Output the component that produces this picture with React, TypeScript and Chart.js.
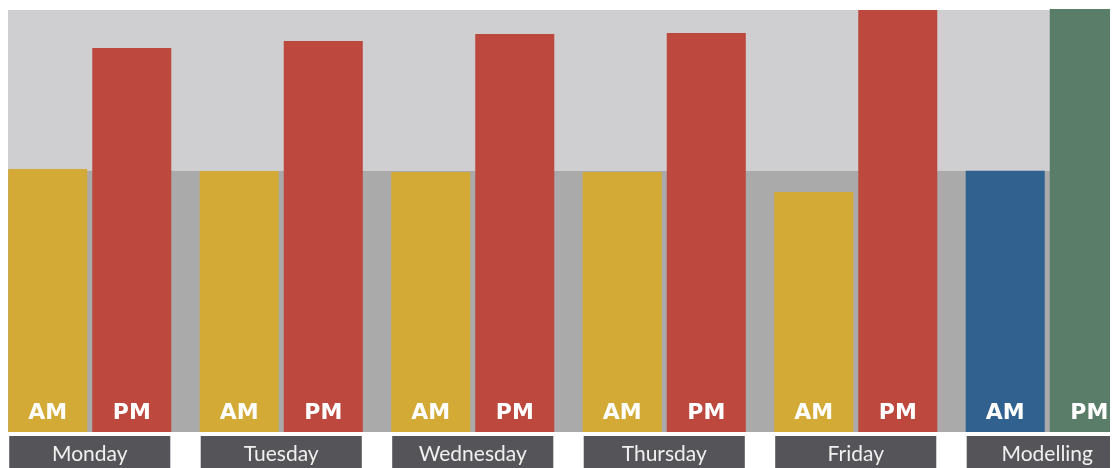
import React, { useEffect, useRef } from "react";
import { Chart, registerables } from "chart.js";

Chart.register(...registerables);

// ---- data ----
const categories = ["Monday", "Tuesday", "Wednesday", "Thursday", "Friday", "Modelling"];
const amValues = [62.3, 61.85, 61.6, 61.6, 56.9, 61.9];
const pmValues = [91.0, 92.65, 94.3, 94.55, 100, 100.25];
const seriesLabels = ["AM", "PM"];
const bandThreshold = 61.85;
const yMax = 100;

// ---- styles ----
const amColors = ["#D4AA36", "#D4AA36", "#D4AA36", "#D4AA36", "#D4AA36", "#30618F"];
const pmColors = ["#BD493E", "#BD493E", "#BD493E", "#BD493E", "#BD493E", "#5A7D69"];
const upperBand = "#CFCFD1";
const lowerBand = "#AAAAAB";
const boxColor = "#555559";

const bandsPlugin = {
  id: "bands",
  beforeDatasetsDraw(chart: any) {
    const { ctx, chartArea: a, scales } = chart;
    const t = scales.y.getPixelForValue(bandThreshold);
    ctx.save();
    ctx.fillStyle = upperBand;
    ctx.fillRect(a.left, a.top, a.right - a.left, t - a.top);
    ctx.fillStyle = lowerBand;
    ctx.fillRect(a.left, t, a.right - a.left, a.bottom - t);
    ctx.restore();
  },
};

const labelsPlugin = {
  id: "barLabels",
  afterDatasetsDraw(chart: any) {
    const { ctx, chartArea: a } = chart;
    ctx.save();
    ctx.fillStyle = "#FFFFFF";
    ctx.font = "bold 22px 'DejaVu Sans'";
    ctx.textAlign = "center";
    ctx.textBaseline = "alphabetic";
    chart.data.datasets.forEach((ds: any, di: number) => {
      const meta = chart.getDatasetMeta(di);
      meta.data.forEach((bar: any) => {
        ctx.fillText(ds.label, bar.x, a.bottom - 13);
      });
    });
    // category boxes
    const m0 = chart.getDatasetMeta(0);
    const m1 = chart.getDatasetMeta(1);
    chart.data.labels.forEach((lab: string, i: number) => {
      const b0 = m0.data[i];
      const b1 = m1.data[i];
      const left = b0.x - b0.width / 2 + 1;
      const right = b1.x + b1.width / 2 - 1;
      const top = a.bottom + 4;
      ctx.fillStyle = boxColor;
      ctx.fillRect(left, top, right - left, chart.height - top);
      ctx.fillStyle = "#F0F0F0";
      ctx.font = "21px Lato";
      ctx.fillText(lab, (left + right) / 2, top + 25);
    });
    ctx.restore();
  },
};

export default function App() {
  const ref = useRef<HTMLCanvasElement>(null);
  useEffect(() => {
    if (!ref.current) return;
    document.documentElement.style.overflow = "hidden";
    document.body.style.overflow = "hidden";
    const chart = new Chart(ref.current, {
      type: "bar",
      data: {
        labels: categories,
        datasets: [
          {
            label: seriesLabels[0],
            data: amValues,
            backgroundColor: amColors,
            borderWidth: 0,
          },
          {
            label: seriesLabels[1],
            data: pmValues,
            backgroundColor: pmColors,
            borderWidth: 0,
            clip: false as any,
          },
        ],
      },
      options: {
        responsive: false,
        animation: false,
        devicePixelRatio: 1,
        layout: { padding: { top: 2, bottom: 38, left: 0, right: 0 } },
        datasets: {
          bar: { categoryPercentage: 0.8777, barPercentage: 0.9405 },
        },
        plugins: { legend: { display: false }, tooltip: { enabled: false } },
        scales: {
          x: { display: false },
          y: { display: false, min: 0, max: yMax },
        },
      },
      plugins: [bandsPlugin, labelsPlugin],
    });
    return () => chart.destroy();
  }, []);
  return (
    <div
      style={{
        width: 1140,
        height: 460,
        overflow: "hidden",
        position: "relative",
      }}
    >
      <canvas
        ref={ref}
        width={1149}
        height={462}
        style={{ position: "absolute", left: -14, top: 0 }}
      />
    </div>
  );
}
